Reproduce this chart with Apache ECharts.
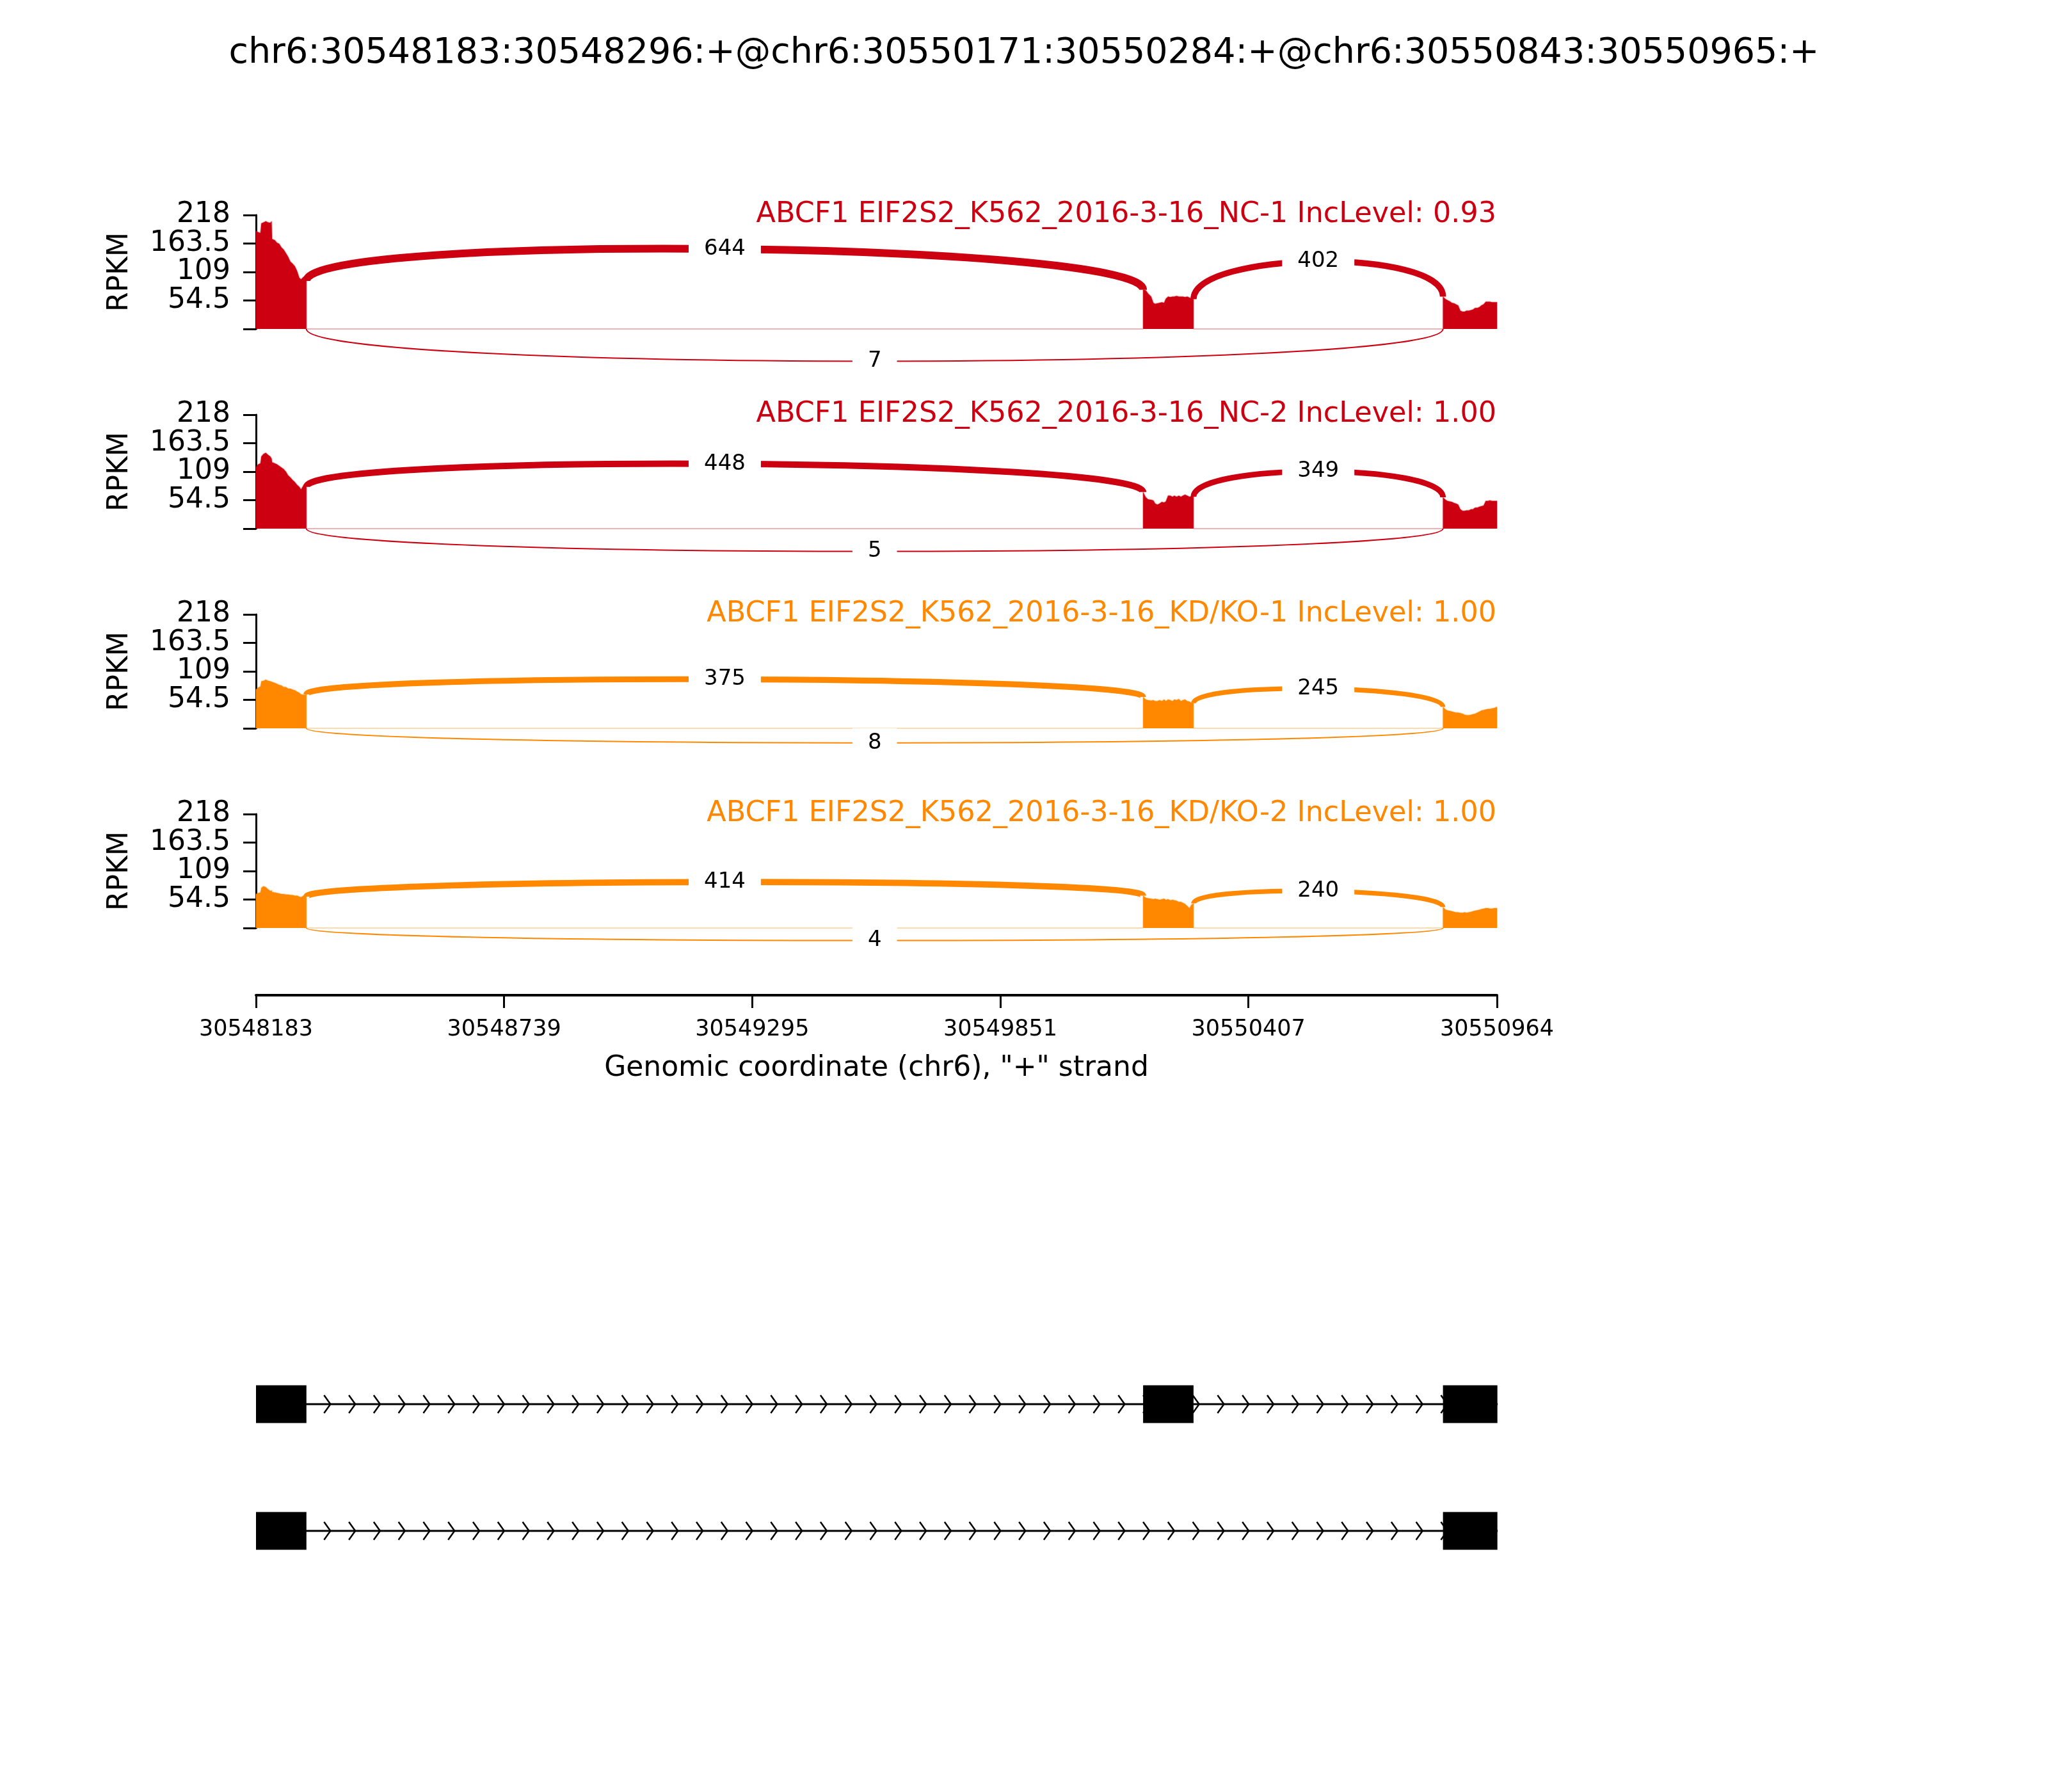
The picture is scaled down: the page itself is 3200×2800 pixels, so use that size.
<!DOCTYPE html>
<html><head><meta charset="utf-8">
<script src="https://cdn.jsdelivr.net/npm/echarts@6/dist/echarts.min.js"></script>
<style>html,body{margin:0;padding:0;background:#fff}#c{width:3200px;height:2800px}</style>
</head><body><div id="c"></div>
<script>
// ---------------- data ----------------
const chartTitle = 'chr6:30548183:30548296:+@chr6:30550171:30550284:+@chr6:30550843:30550965:+';
const sampleNames = [
  'ABCF1 EIF2S2_K562_2016-3-16_NC-1 IncLevel: 0.93',
  'ABCF1 EIF2S2_K562_2016-3-16_NC-2 IncLevel: 1.00',
  'ABCF1 EIF2S2_K562_2016-3-16_KD/KO-1 IncLevel: 1.00',
  'ABCF1 EIF2S2_K562_2016-3-16_KD/KO-2 IncLevel: 1.00'
];
const sampleColors = ['#CC0011', '#CC0011', '#FF8800', '#FF8800'];

const xMin = 30548183, xMax = 30550964;
const xTickValues = [30548183, 30548739, 30549295, 30549851, 30550407, 30550964];
const yTickValues = [0, 54.5, 109, 163.5, 218];

// exons (start, end)
const exon1 = [30548183, 30548296];
const exon2 = [30550171, 30550284];
const exon3 = [30550843, 30550965];

// coverage sample positions inside each exon
const exon1Pos = [30548183, 30548188, 30548193, 30548195, 30548200, 30548205, 30548210, 30548215, 30548218, 30548219, 30548225, 30548230, 30548235, 30548240, 30548245, 30548250, 30548255, 30548260, 30548265, 30548270, 30548275, 30548280, 30548284, 30548290, 30548296];
const exon2Pos = [30550171, 30550177, 30550182, 30550189, 30550194, 30550198, 30550203, 30550208, 30550213, 30550218, 30550222, 30550227, 30550232, 30550237, 30550241, 30550246, 30550251, 30550256, 30550260, 30550265, 30550270, 30550275, 30550279, 30550284];
const exon3Pos = [30550843, 30550849, 30550853, 30550858, 30550863, 30550868, 30550872, 30550877, 30550882, 30550887, 30550891, 30550896, 30550901, 30550906, 30550910, 30550915, 30550920, 30550925, 30550929, 30550934, 30550939, 30550944, 30550948, 30550953, 30550958, 30550964];

// RPKM coverage per sample
const nc1Exon1 = [188,185,184,202,204,206,204,203,206,172,170,165,163,156,152,145,138,129,125,120,111,98,95,100,92];
const nc1Exon2 = [75,74,68,62,50,48,49,50,51,50,58,62,61,62,62,63,62,62,62,61,62,60,58,57];
const nc1Exon3 = [62,57,55,53,50,49,47,45,35,33,33,35,35,36,37,40,40,42,45,47,52,52,52,51,51,51];

const nc2Exon1 = [118,123,125,138,143,145,141,138,134,127,125,123,120,117,114,109,102,98,93,89,84,80,75,84,80];
const nc2Exon2 = [70,60,56,55,54,48,46,48,51,50,52,63,63,61,63,61,63,61,63,65,63,61,62,61];
const nc2Exon3 = [60,55,53,52,51,49,48,46,37,34,34,35,35,37,37,40,40,42,43,44,53,53,54,53,53,53];

const kd1Exon1 = [74,78,80,90,91,93,91,90,89,88,87,85,83,82,79,79,76,76,74,73,70,68,65,64,65];
const kd1Exon2 = [60,55,54,53,54,52,52,54,52,55,52,55,54,52,55,54,56,52,54,55,52,51,49,48];
const kd1Exon3 = [41,36,34,33,32,31,30,30,29,28,26,25,25,26,27,28,30,32,34,35,36,37,37,38,39,41];

const kd2Exon1 = [65,67,68,77,80,78,74,71,72,69,68,67,66,65,65,64,64,63,63,62,62,60,59,62,60];
const kd2Exon2 = [62,58,57,56,55,56,55,54,55,56,54,55,53,54,53,52,50,50,48,46,42,38,44,47];
const kd2Exon3 = [40,35,34,33,32,31,30,30,29,29,30,29,30,31,32,33,34,35,36,37,38,38,37,37,38,38];

// junction read counts
const inclusion1Counts = [644, 448, 375, 414]; // exon1 -> exon2
const inclusion2Counts = [402, 349, 245, 240]; // exon2 -> exon3
const exclusionCounts  = [7, 5, 8, 4];         // exon1 -> exon3

// gene models
const transcript1Exons = [exon1, exon2, exon3];
const transcript2Exons = [exon1, exon3];

// ---------------- layout ----------------
const FONT = '"DejaVu Sans", sans-serif';
const panelTop = [336, 648, 960, 1272];
const panelH = 178;
const gridLeft = 400, gridWidth = 1939;

const coverage = [
  [nc1Exon1, nc1Exon2, nc1Exon3],
  [nc2Exon1, nc2Exon2, nc2Exon3],
  [kd1Exon1, kd1Exon2, kd1Exon3],
  [kd2Exon1, kd2Exon2, kd2Exon3]
];
const exonPos = [exon1Pos, exon2Pos, exon3Pos];
const maxCount = Math.max(...inclusion1Counts, ...inclusion2Counts, ...exclusionCounts);

function coverageData(p) {
  const pts = [];
  for (let e = 0; e < 3; e++) {
    const pos = exonPos[e], val = coverage[p][e];
    pts.push([pos[0], 0]);
    for (let i = 0; i < pos.length; i++) pts.push([pos[i], val[i]]);
    pts.push([pos[pos.length - 1], 0]);
  }
  return pts;
}

const grids = [], xAxes = [], yAxes = [], series = [], titles = [];

titles.push({
  text: chartTitle, left: 'center', top: 51,
  textStyle: { fontFamily: FONT, fontSize: 55.5, fontWeight: 'normal', color: '#000' }
});

for (let p = 0; p < 4; p++) {
  const color = sampleColors[p];
  grids.push({ left: gridLeft, width: gridWidth, top: panelTop[p], height: panelH, containLabel: false });
  xAxes.push({ type: 'value', gridIndex: p, min: xMin, max: xMax, show: false });
  yAxes.push({
    type: 'value', gridIndex: p, min: 0, max: 218,
    name: 'RPKM', nameLocation: 'middle', nameGap: 190,
    nameTextStyle: { fontFamily: FONT, fontSize: 44, color: '#000' },
    axisLine: { show: true, lineStyle: { color: '#000', width: 3 } },
    axisTick: { show: true, length: 20, lineStyle: { color: '#000', width: 3 }, customValues: yTickValues },
    axisLabel: {
      customValues: yTickValues, margin: 40, fontFamily: FONT, fontSize: 44, color: '#000',
      formatter: v => (v === 0 ? '' : String(v))
    },
    splitLine: { show: false }
  });
  titles.push({
    text: sampleNames[p], right: 3200 - 2343, top: panelTop[p] - 28,
    textStyle: { fontFamily: FONT, fontSize: 44.5, fontWeight: 'normal', color: color }
  });

  const cov = coverage[p];
  const sampleMax = Math.max(...cov[0], ...cov[1], ...cov[2]);
  series.push({
    type: 'line', xAxisIndex: p, yAxisIndex: p, data: coverageData(p),
    symbol: 'none', silent: true, z: 2,
    lineStyle: { width: 2, color: color, opacity: 0.3 },
    areaStyle: { color: color, opacity: 1 }
  });

  const e1 = cov[0], e2 = cov[1], e3 = cov[2];
  const jData = [
    [exon1[1], exon2[0], e1[e1.length - 1], e2[0], inclusion1Counts[p], 1],
    [exon2[1], exon3[0], e2[e2.length - 1], e3[0], inclusion2Counts[p], 1],
    [exon1[1], exon3[0], 0, 0, exclusionCounts[p], 0]
  ];
  series.push({
    type: 'custom', xAxisIndex: p, yAxisIndex: p, data: jData, clip: false, z: 5, silent: true,
    renderItem: function (params, api) {
      const x1 = api.value(0), x2 = api.value(1), L = api.value(2), R = api.value(3), cnt = api.value(4), up = api.value(5);
      const h = up ? 0.45 * sampleMax : -0.4 * sampleMax;
      const P0 = api.coord([x1, L]), P1 = api.coord([x1, L + h]), P2 = api.coord([x2, R + h]), P3 = api.coord([x2, R]);
      const mx = (P0[0] + 3 * P1[0] + 3 * P2[0] + P3[0]) / 8;
      const my = (P0[1] + 3 * P1[1] + 3 * P2[1] + P3[1]) / 8;
      const lw = Math.max(2, 12 * Math.sqrt(cnt / maxCount));
      return {
        type: 'group', children: [
          { type: 'bezierCurve', shape: { x1: P0[0], y1: P0[1], x2: P3[0], y2: P3[1], cpx1: P1[0], cpy1: P1[1], cpx2: P2[0], cpy2: P2[1] },
            style: { stroke: color, lineWidth: lw, fill: null } },
          { type: 'text', x: mx, y: my, z2: 10,
            style: { text: String(cnt), fill: '#000', font: '34px ' + FONT, align: 'center', verticalAlign: 'middle',
                     backgroundColor: '#fff', padding: [6, 24] } }
        ]
      };
    }
  });
}

// bottom genomic axis
grids.push({ left: gridLeft, width: gridWidth, top: 1554, height: 1 });
xAxes.push({
  type: 'value', gridIndex: 4, min: xMin, max: xMax, position: 'bottom',
  name: 'Genomic coordinate (chr6), "+" strand', nameLocation: 'middle', nameGap: 93,
  nameTextStyle: { fontFamily: FONT, fontSize: 44, color: '#000' },
  axisLine: { show: true, lineStyle: { color: '#000', width: 4 } },
  axisTick: { show: true, length: 20, lineStyle: { color: '#000', width: 3 }, customValues: xTickValues },
  axisLabel: { customValues: xTickValues, margin: 36, fontFamily: FONT, fontSize: 35, color: '#000', formatter: v => String(v) },
  splitLine: { show: false }
});
yAxes.push({ type: 'value', gridIndex: 4, show: false, min: 0, max: 1 });

// gene structure
const transcripts = [transcript1Exons, transcript2Exons];
grids.push({ left: gridLeft, width: gridWidth, top: 2095, height: 396 });
xAxes.push({ type: 'value', gridIndex: 5, min: xMin, max: xMax, show: false });
yAxes.push({ type: 'value', gridIndex: 5, min: 0, max: 2, inverse: true, show: false });
series.push({
  type: 'custom', xAxisIndex: 5, yAxisIndex: 5, clip: false, silent: true,
  data: transcripts.map((t, i) => [t[0][0], i + 0.5, t[t.length - 1][1]]),
  renderItem: function (params, api) {
    const exons = transcripts[params.dataIndex];
    const a = api.coord([api.value(0), api.value(1)]);
    const b = api.coord([api.value(2), api.value(1)]);
    const cy = a[1];
    const children = [];
    children.push({ type: 'line', shape: { x1: a[0], y1: cy, x2: b[0], y2: cy }, style: { stroke: '#000', lineWidth: 3 } });
    const n = 50, step = (api.coord([xMax, 0])[0] - api.coord([xMin, 0])[0]) / n;
    for (let k = 1; k <= n; k++) {
      const tx = a[0] + k * step;
      children.push({ type: 'polyline', shape: { points: [[tx - 10, cy - 14], [tx, cy], [tx - 10, cy + 14]] },
        style: { stroke: '#000', lineWidth: 2.5, fill: null } });
    }
    exons.forEach(ex => {
      const s = api.coord([ex[0], 0])[0], e = api.coord([ex[1], 0])[0];
      children.push({ type: 'rect', shape: { x: s, y: cy - 29.5, width: e - s, height: 59 }, style: { fill: '#000' }, z2: 5 });
    });
    return { type: 'group', children: children };
  }
});

const chart = echarts.init(document.getElementById('c'), null, { renderer: 'canvas' });
chart.setOption({
  animation: false,
  backgroundColor: '#fff',
  title: titles,
  grid: grids,
  xAxis: xAxes,
  yAxis: yAxes,
  series: series
});
</script>
</body></html>
